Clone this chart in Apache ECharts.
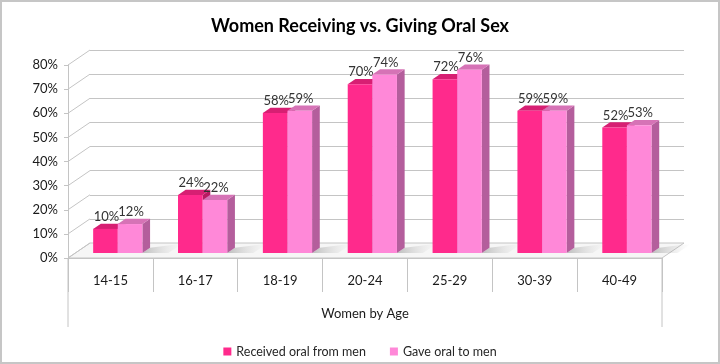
<!DOCTYPE html>
<html>
<head>
<meta charset="utf-8">
<script src="https://cdn.jsdelivr.net/npm/echarts@6/dist/echarts.min.js"></script>
<style>
html,body{margin:0;padding:0;background:#fff;}
#chart{width:720px;height:364px;}
</style>
</head>
<body>
<div id="chart"></div>
<script>
// ---- data ----
const categories = ['14-15', '16-17', '18-19', '20-24', '25-29', '30-39', '40-49'];
const received = [10, 24, 58, 70, 72, 59, 52];
const gave = [12, 22, 59, 74, 76, 59, 53];
const yTicks = [0, 10, 20, 30, 40, 50, 60, 70, 80];
const seriesNames = ['Received oral from men', 'Gave oral to men'];

// ---- style constants ----
const DX = 22, DY = -15;          // 3D depth offset of back wall
const POS = 1 / 3;                // depth position of bar front faces
const BD = 0.35;                  // bar depth fraction
const BARW = 0.29;                // bar width fraction of band
const FONT = 'Lato, "Open Sans", sans-serif';
const GRID = '#c4c4c4';

const colorsRec = { front: '#ff2a8c', top: '#d71f73', side: '#b81a62' };
const colorsGave = { front: '#ff88d8', top: '#d673b6', side: '#b45e9c' };

function barRenderer(sIdx, col) {
  return function (params, api) {
    const i = api.value(0), v = api.value(1);
    const c = api.coord([i, 0]);
    const band = api.size([1, 0])[0];
    const bw = band * BARW;
    const ox = DX * POS, oy = DY * POS;
    const base = c[1] + oy;
    const top = api.coord([i, v])[1] + oy;
    const x = c[0] + ox + (sIdx === 0 ? -bw : 0);
    const bdx = DX * BD, bdy = DY * BD;
    const children = [];
    if (sIdx === 1) {
      children.push({
        type: 'polygon',
        shape: { points: [[x + bw, base], [x + bw + 26, base], [x + bw + 26 + bdx + 6, base + bdy - 4], [x + bw + bdx, base + bdy]] },
        style: {
          fill: new echarts.graphic.LinearGradient(0, 0, 1, 0, [
            { offset: 0, color: 'rgba(120,120,120,0.45)' },
            { offset: 1, color: 'rgba(200,200,200,0)' }
          ])
        }
      });
    }
    children.push(
      { type: 'polygon', shape: { points: [[x + bw, top], [x + bw + bdx, top + bdy], [x + bw + bdx, base + bdy], [x + bw, base]] }, style: { fill: col.side } },
      { type: 'polygon', shape: { points: [[x, top], [x + bw, top], [x + bw + bdx, top + bdy], [x + bdx, top + bdy]] }, style: { fill: col.top } },
      { type: 'rect', shape: { x: x, y: top, width: bw, height: base - top }, style: { fill: col.front } },
      { type: 'text', style: { x: x + bw / 2 + 1, y: top - 12, text: v + '%', textAlign: 'center', textVerticalAlign: 'middle', fill: '#333333', font: '13px ' + FONT } }
    );
    return { type: 'group', children: children };
  };
}

function decorRenderer(params, api) {
  const v = api.value(0);
  const cs = params.coordSys;
  const y = api.coord([0, v])[1];
  const x0 = cs.x;
  const children = [{
    type: 'line',
    shape: { x1: x0, y1: y, x2: x0 + DX, y2: y + DY },
    style: { stroke: GRID, lineWidth: 1 }
  }];
  if (params.dataIndex === 0) {
    const yb = cs.y + cs.height, xr = cs.x + cs.width;
    children.unshift({
      type: 'polygon',
      shape: { points: [[x0, yb], [xr, yb], [xr + DX, yb + DY], [x0 + DX, yb + DY]] },
      style: { fill: '#f6f6f6', stroke: GRID, lineWidth: 1 }
    });
    children.push(
      { type: 'line', shape: { x1: x0, y1: yb, x2: x0, y2: yb + 69 }, style: { stroke: GRID, lineWidth: 1 } },
      { type: 'line', shape: { x1: xr, y1: yb, x2: xr, y2: yb + 69 }, style: { stroke: GRID, lineWidth: 1 } }
    );
  }
  return { type: 'group', children: children };
}

const chart = echarts.init(document.getElementById('chart'), null, { renderer: 'canvas' });
chart.setOption({
  animation: false,
  textStyle: { fontFamily: FONT },
  title: {
    text: 'Women Receiving vs. Giving Oral Sex',
    left: 'center', top: 12,
    textStyle: { fontFamily: FONT, fontSize: 18, fontWeight: 'bold', color: '#000' }
  },
  graphic: [{
    type: 'rect', shape: { x: 1, y: 1, width: 718, height: 362 },
    style: { fill: 'none', stroke: '#c6c6c6', lineWidth: 2 }, z: 100
  }],
  legend: {
    data: seriesNames,
    left: 'center', top: 340,
    itemWidth: 8, itemHeight: 8, itemGap: 24, icon: 'rect',
    textStyle: { fontFamily: FONT, fontSize: 12.5, color: '#262626' }
  },
  grid: [
    { left: 68, top: 65, width: 594, height: 193 },
    { left: 90, top: 50, width: 594, height: 193 }
  ],
  xAxis: [
    {
      gridIndex: 0, type: 'category', data: categories,
      axisLine: { show: true, lineStyle: { color: GRID } },
      axisTick: { show: true, length: 34, interval: 0, lineStyle: { color: GRID } },
      axisLabel: { margin: 16, fontSize: 13, color: '#1a1a1a', fontFamily: FONT },
      name: 'Women by Age', nameLocation: 'middle', nameGap: 49,
      nameTextStyle: { fontSize: 13, color: '#1a1a1a', fontFamily: FONT }
    },
    { gridIndex: 1, type: 'category', data: categories, show: false }
  ],
  yAxis: [
    {
      gridIndex: 0, type: 'value', min: 0, max: 80, interval: 10,
      axisLine: { show: true, lineStyle: { color: GRID } },
      axisTick: { show: true, length: 4, lineStyle: { color: GRID } },
      axisLabel: { formatter: '{value}%', margin: 10, fontSize: 13, color: '#1a1a1a', fontFamily: FONT },
      splitLine: { show: false }
    },
    {
      gridIndex: 1, type: 'value', min: 0, max: 80, interval: 10,
      axisLine: { show: false }, axisTick: { show: false }, axisLabel: { show: false },
      splitLine: { show: true, lineStyle: { color: GRID, width: 1 } }
    }
  ],
  series: [
    {
      type: 'custom', name: 'decor', xAxisIndex: 0, yAxisIndex: 0, z: 1, silent: true,
      data: yTicks.map(v => [v]), renderItem: decorRenderer, encode: { x: -1, y: 0 }
    },
    {
      type: 'custom', name: seriesNames[0], xAxisIndex: 0, yAxisIndex: 0, z: 3,
      itemStyle: { color: colorsRec.front },
      data: categories.map((c, i) => [i, received[i]]),
      renderItem: barRenderer(0, colorsRec), encode: { x: 0, y: 1 }
    },
    {
      type: 'custom', name: seriesNames[1], xAxisIndex: 0, yAxisIndex: 0, z: 3,
      itemStyle: { color: colorsGave.front },
      data: categories.map((c, i) => [i, gave[i]]),
      renderItem: barRenderer(1, colorsGave), encode: { x: 0, y: 1 }
    }
  ]
});
</script>
</body>
</html>
